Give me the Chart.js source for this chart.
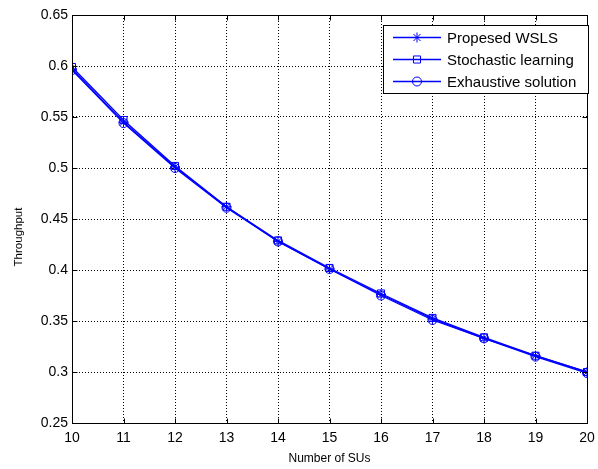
<!DOCTYPE html>
<html>
<head>
<meta charset="utf-8">
<script src="https://cdn.jsdelivr.net/npm/chart.js@4"></script>
<style>
  html, body { margin: 0; padding: 0; background: #fff; }
  #wrap { width: 598px; height: 469px; }
</style>
</head>
<body>
<div id="wrap"><canvas id="chartCanvas" width="598" height="469"></canvas></div>
<script>
// data
const numSUs = [10, 11, 12, 13, 14, 15, 16, 17, 18, 19, 20];
const wsls = [0.597, 0.545, 0.501, 0.462, 0.428, 0.401, 0.376, 0.352, 0.333, 0.316, 0.300];
const stochastic = [0.599, 0.547, 0.502, 0.462, 0.429, 0.402, 0.377, 0.353, 0.334, 0.316, 0.300];
const exhaustive = [0.596, 0.544, 0.500, 0.461, 0.428, 0.401, 0.375, 0.351, 0.333, 0.315, 0.299];
const seriesNames = ["Propesed WSLS", "Stochastic learning", "Exhaustive solution"];
const yTicks = [0.25, 0.3, 0.35, 0.4, 0.45, 0.5, 0.55, 0.6, 0.65];
const yTitle = "Throughput";

const blue = "#0000ff";
const font = "Arial, 'Liberation Sans', sans-serif";

function toPoints(vals) {
    return vals.map((v, i) => ({ x: numSUs[i], y: v }));
}

function makeSet(label, vals, style, radius) {
    return {
        label: label,
        data: toPoints(vals),
        borderColor: blue,
        backgroundColor: "rgba(0,0,0,0)",
        borderWidth: 1.3,
        pointStyle: style,
        pointRadius: radius,
        pointBorderColor: blue,
        pointBackgroundColor: "rgba(0,0,0,0)",
        pointBorderWidth: 1,
        tension: 0
    };
}

// box around the plot area, inward ticks, y label + matlab style legend
const boxAndLegend = {
    id: "boxAndLegend",
    afterDraw(chart) {
        const c = chart.ctx;
        const a = chart.chartArea;
        const L = Math.round(a.left) + 0.5, R = Math.round(a.right) + 0.5;
        const T = Math.round(a.top) + 0.5, B = Math.round(a.bottom) + 0.5;
        c.save();
        c.strokeStyle = "#000";
        c.lineWidth = 1;
        c.strokeRect(L, T, R - L, B - T);

        // little ticks pointing inwards on all four sides
        const xs = chart.scales.x, ys = chart.scales.y;
        c.beginPath();
        xs.ticks.forEach(t => {
            const px = Math.round(xs.getPixelForValue(t.value)) + 0.5;
            c.moveTo(px, B); c.lineTo(px, B - 5);
            c.moveTo(px, T); c.lineTo(px, T + 5);
        });
        ys.ticks.forEach(t => {
            const py = Math.round(ys.getPixelForValue(t.value)) + 0.5;
            c.moveTo(L, py); c.lineTo(L + 5, py);
            c.moveTo(R, py); c.lineTo(R - 5, py);
        });
        c.stroke();

        // y axis label (sits a bit below centre in the original)
        c.save();
        c.translate(19, 237);
        c.rotate(-Math.PI / 2);
        c.fillStyle = "#000";
        c.font = "11.5px " + font;
        c.textAlign = "center";
        c.textBaseline = "middle";
        c.fillText(yTitle, 0, 0);
        c.restore();

        // legend
        const lx = 383, ly = 25, lw = 205, lh = 68;
        c.fillStyle = "#fff";
        c.fillRect(lx, ly, lw, lh);
        c.strokeRect(lx + 0.5, ly + 0.5, lw, lh);
        c.textBaseline = "middle";
        const rows = [37, 59, 81];
        chart.data.datasets.forEach((ds, i) => {
            const y = rows[i] + 0.5;
            c.strokeStyle = blue;
            c.lineWidth = 1.3;
            c.beginPath();
            c.moveTo(393, y);
            c.lineTo(441, y);
            c.stroke();
            c.lineWidth = 1;
            c.strokeStyle = blue;
            c.fillStyle = "rgba(0,0,0,0)";
            Chart.helpers.drawPoint(c, {
                pointStyle: ds.pointStyle,
                radius: ds.pointRadius,
                borderWidth: 1
            }, 417, y);
            c.fillStyle = "#000";
            c.font = "15px " + font;
            c.fillText(ds.label, 447, y + 1);
        });
        c.restore();
    }
};

const ctx = document.getElementById("chartCanvas");
const myChart = new Chart(ctx, {
    type: "line",
    data: {
        datasets: [
            makeSet(seriesNames[0], wsls, "star", 5),
            makeSet(seriesNames[1], stochastic, "rect", 5),
            makeSet(seriesNames[2], exhaustive, "circle", 4.5)
        ]
    },
    options: {
        responsive: false,
        animation: false,
        layout: { padding: { left: 0, top: 15, right: 11, bottom: 3 } },
        plugins: {
            legend: { display: false },
            tooltip: { enabled: false }
        },
        scales: {
            x: {
                type: "linear",
                min: 10, max: 20,
                afterFit: s => { s.height = 43; s.paddingLeft = 0; s.paddingRight = 0; },
                ticks: {
                    stepSize: 1,
                    color: "#000",
                    font: { family: font, size: 14 },
                    padding: 7,
                    maxRotation: 0
                },
                grid: { color: "#000", borderDash: [1, 2], lineWidth: 1, drawTicks: false },
                border: { display: true, color: "#000", width: 1, dash: [1, 2] },
                title: {
                    display: true,
                    text: "Number of SUs",
                    color: "#000",
                    font: { family: font, size: 12 },
                    padding: { top: 1, bottom: 0 }
                }
            },
            y: {
                min: 0.25, max: 0.65,
                afterFit: s => { s.width = 72; s.paddingTop = 0; s.paddingBottom = 0; },
                afterBuildTicks: s => { s.ticks = yTicks.map(v => ({ value: v })); },
                ticks: {
                    color: "#000",
                    font: { family: font, size: 14 },
                    padding: 4,
                    callback: v => Number(v.toFixed(2)).toString()
                },
                grid: { color: "#000", borderDash: [1, 2], lineWidth: 1, drawTicks: false },
                border: { display: true, color: "#000", width: 1, dash: [1, 2] },
                title: { display: false }
            }
        }
    },
    plugins: [boxAndLegend]
});
</script>
</body>
</html>
